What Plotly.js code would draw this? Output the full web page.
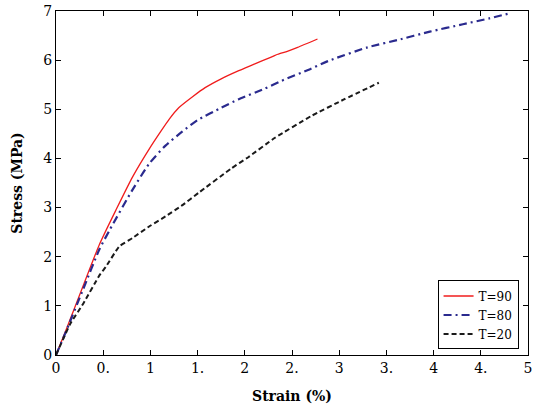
<!DOCTYPE html>
<html>
<head>
<meta charset="utf-8">
<script src="https://cdn.plot.ly/plotly-3.0.1.min.js"></script>
<style>html,body{margin:0;padding:0;background:#fff;}#chart{width:534px;height:410px;}</style>
</head>
<body>
<div id="chart"></div>
<script>
const seriesNames = ["T=90", "T=80", "T=20"];

const strain90 = [0, 0.1, 0.29, 0.46, 0.64, 0.81, 0.99, 1.11, 1.2, 1.3, 1.45, 1.58, 1.75, 1.93, 2.1, 2.28, 2.35, 2.45, 2.56, 2.77];
const stress90 = [0, 0.48, 1.42, 2.25, 2.97, 3.62, 4.2, 4.55, 4.8, 5.03, 5.26, 5.44, 5.62, 5.78, 5.92, 6.06, 6.12, 6.18, 6.26, 6.43];

const strain80 = [0, 0.1, 0.29, 0.46, 0.57, 0.81, 0.99, 1.16, 1.34, 1.5, 1.75, 1.93, 2.21, 2.39, 2.67, 2.88, 3.3, 3.62, 3.96, 4.31, 4.59, 4.82];
const stress80 = [0, 0.45, 1.35, 2.15, 2.55, 3.36, 3.9, 4.26, 4.55, 4.78, 5.03, 5.2, 5.42, 5.58, 5.8, 5.98, 6.26, 6.41, 6.58, 6.73, 6.85, 6.96];

const strain20 = [0, 0.15, 0.29, 0.46, 0.53, 0.67, 0.81, 0.99, 1.16, 1.34, 1.51, 1.86, 2.04, 2.32, 2.7, 3.05, 3.42];
const stress20 = [0, 0.63, 1.05, 1.62, 1.8, 2.21, 2.38, 2.62, 2.82, 3.05, 3.3, 3.8, 4.03, 4.42, 4.86, 5.2, 5.54];

const xTickVals = [0, 0.5, 1, 1.5, 2, 2.5, 3, 3.5, 4, 4.5, 5];
const xTickText = ["0", "0.", "1", "1.", "2", "2.", "3", "3.", "4", "4.", "5"];
const yTickVals = [0, 1, 2, 3, 4, 5, 6, 7];

const font = "DejaVu Serif";

const traces = [
  {x: strain90, y: stress90, name: seriesNames[0], mode: "lines",
   line: {color: "#f01c1c", width: 1.3, shape: "spline", smoothing: 0.6}},
  {x: strain80, y: stress80, name: seriesNames[1], mode: "lines",
   line: {color: "#2a2a8e", width: 2.2, dash: "8px,4px,2px,4px", shape: "spline", smoothing: 0.6}},
  {x: strain20, y: stress20, name: seriesNames[2], mode: "lines",
   line: {color: "#1a1a1a", width: 2, dash: "5px,3px", shape: "spline", smoothing: 0.4}}
];

const axisCommon = {
  showline: true, linecolor: "#000", linewidth: 1, mirror: "ticks",
  ticks: "inside", ticklen: 5, tickcolor: "#000", tickwidth: 1,
  showgrid: false, zeroline: false, ticklabeloverflow: "allow",
  tickfont: {family: font, size: 14, color: "#000"}
};

const layout = {
  width: 534, height: 410,
  margin: {l: 56, r: 6, t: 11, b: 55},
  paper_bgcolor: "#fff", plot_bgcolor: "#fff",
  showlegend: true,
  xaxis: Object.assign({}, axisCommon, {
    range: [0, 5], tickmode: "array", tickvals: xTickVals, ticktext: xTickText,
    title: {text: "Strain (%)", font: {family: font, size: 14, color: "#000", weight: "bold"}, standoff: 16}
  }),
  yaxis: Object.assign({}, axisCommon, {
    range: [0, 7], tickmode: "array", tickvals: yTickVals,
    title: {text: "Stress (MPa)", font: {family: font, size: 14, color: "#000", weight: "bold"}, standoff: 17}
  }),
  legend: {
    x: 0.98, y: 0.016, xanchor: "right", yanchor: "bottom",
    bgcolor: "#fff", bordercolor: "#000", borderwidth: 1,
    font: {family: font, size: 12, color: "#000"},
    tracegroupgap: 0, itemwidth: 30
  }
};

Plotly.newPlot("chart", traces, layout, {displayModeBar: false, staticPlot: true});
</script>
</body>
</html>
